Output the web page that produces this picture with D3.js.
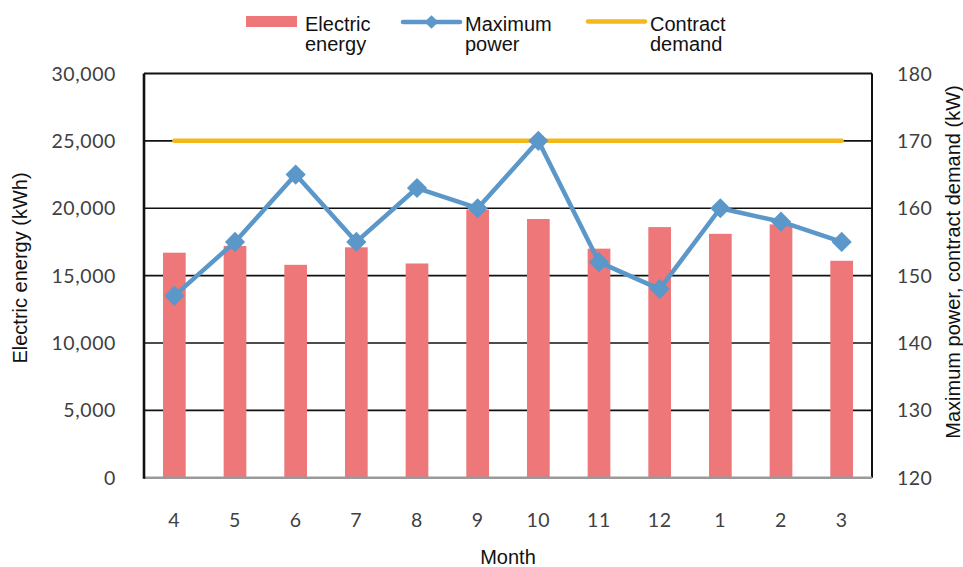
<!DOCTYPE html>
<html>
<head>
<meta charset="utf-8">
<script src="https://cdn.jsdelivr.net/npm/d3@7/dist/d3.min.js"></script>
<style>
  html, body { margin: 0; padding: 0; background: #fff; }
  svg { display: block; }
</style>
</head>
<body>
<svg id="chart" width="963" height="567"></svg>
<script>
// Monthly electricity data, fiscal year April → March
const months = ["4", "5", "6", "7", "8", "9", "10", "11", "12", "1", "2", "3"];
const energyKWh = [16700, 17200, 15800, 17100, 15900, 19900, 19200, 17000, 18600, 18100, 18800, 16100];
const maxPowerKW = [147, 155, 165, 155, 163, 160, 170, 152, 148, 160, 158, 155];
const contractDemandKW = 170;

const leftTicks = [0, 5000, 10000, 15000, 20000, 25000, 30000];
const rightTicks = [120, 130, 140, 150, 160, 170, 180];

const colors = { energy: "#EE777A", power: "#5B97C9", contract: "#F4B81C", text: "#404040" };

const svg = d3.select("#chart");
const plot = { left: 144, right: 872, top: 73.5, bottom: 477.7 };

const x = d3.scaleBand().domain(months).range([plot.left, plot.right]).paddingInner(0.626).paddingOuter(0.313);
const xc = d => x(d) + x.bandwidth() / 2;
const yL = d3.scaleLinear().domain([0, 30000]).range([plot.bottom, plot.top]);
const yR = d3.scaleLinear().domain([120, 180]).range([plot.bottom, plot.top]);

const tickFont = "Lato, 'Open Sans', sans-serif";
const titleFont = "'Liberation Sans', Arial, sans-serif";
const tickSize = 19.5;
const titleSize = 20;

// Horizontal gridlines
svg.append("g").selectAll("line").data(leftTicks.filter(t => t > 0 && t < 30000)).join("line")
  .attr("x1", plot.left).attr("x2", plot.right)
  .attr("y1", d => yL(d)).attr("y2", d => yL(d))
  .attr("stroke", "#111").attr("stroke-width", 1.6);

// Bars
svg.append("g").selectAll("rect").data(months).join("rect")
  .attr("x", d => x(d))
  .attr("y", (d, i) => yL(energyKWh[i]))
  .attr("width", x.bandwidth())
  .attr("height", (d, i) => yL(0) - yL(energyKWh[i]))
  .attr("fill", colors.energy);

// Frame
svg.append("line").attr("x1", plot.left).attr("x2", plot.right).attr("y1", plot.top).attr("y2", plot.top)
  .attr("stroke", "#111").attr("stroke-width", 2);
svg.append("line").attr("x1", plot.right).attr("x2", plot.right).attr("y1", plot.top).attr("y2", plot.bottom)
  .attr("stroke", "#111").attr("stroke-width", 2);
svg.append("line").attr("x1", plot.left).attr("x2", plot.right).attr("y1", plot.bottom).attr("y2", plot.bottom)
  .attr("stroke", "#9a9a9a").attr("stroke-width", 2.4);
svg.append("line").attr("x1", plot.left).attr("x2", plot.left).attr("y1", plot.top).attr("y2", plot.bottom + 1)
  .attr("stroke", "#111").attr("stroke-width", 2.6);

// Contract demand line
svg.append("line")
  .attr("x1", xc(months[0])).attr("x2", xc(months[months.length - 1]))
  .attr("y1", yR(contractDemandKW)).attr("y2", yR(contractDemandKW))
  .attr("stroke", colors.contract).attr("stroke-width", 4.5).attr("stroke-linecap", "round");

// Maximum power line with diamond markers
const line = d3.line().x((d, i) => xc(months[i])).y(d => yR(d));
svg.append("path").datum(maxPowerKW).attr("d", line)
  .attr("fill", "none").attr("stroke", colors.power).attr("stroke-width", 4.5).attr("stroke-linejoin", "round");
const diamond = d3.symbol().type(d3.symbolDiamond2).size(260);
svg.append("g").selectAll("path").data(maxPowerKW).join("path")
  .attr("transform", (d, i) => `translate(${xc(months[i])},${yR(d)})`)
  .attr("d", diamond).attr("fill", colors.power);

// Left axis labels
svg.append("g").selectAll("text").data(leftTicks).join("text")
  .attr("x", 116).attr("y", d => yL(d)).attr("dy", "0.36em")
  .attr("text-anchor", "end").attr("font-family", tickFont).attr("font-size", tickSize)
  .attr("letter-spacing", 0.6).attr("fill", colors.text)
  .text(d => d3.format(",")(d));

// Right axis labels
svg.append("g").selectAll("text").data(rightTicks).join("text")
  .attr("x", 897).attr("y", d => yR(d)).attr("dy", "0.36em")
  .attr("text-anchor", "start").attr("font-family", tickFont).attr("font-size", tickSize)
  .attr("letter-spacing", 0.4).attr("fill", colors.text)
  .text(d => d);

// Month labels
svg.append("g").selectAll("text").data(months).join("text")
  .attr("x", d => xc(d)).attr("y", 520).attr("dy", "0.36em")
  .attr("text-anchor", "middle").attr("font-family", tickFont).attr("font-size", tickSize)
  .attr("letter-spacing", 0.6).attr("fill", colors.text)
  .text(d => d);

// Axis titles
svg.append("text").attr("x", 508).attr("y", 557).attr("dy", "0.36em")
  .attr("text-anchor", "middle").attr("font-family", titleFont).attr("font-size", titleSize).attr("fill", "#111")
  .text("Month");
svg.append("text").attr("transform", "translate(20,268) rotate(-90)").attr("dy", "0.36em")
  .attr("text-anchor", "middle").attr("font-family", titleFont).attr("font-size", titleSize).attr("fill", "#111")
  .text("Electric energy (kWh)");
svg.append("text").attr("transform", "translate(953,262) rotate(-90)").attr("dy", "0.36em")
  .attr("text-anchor", "middle").attr("font-family", titleFont).attr("font-size", titleSize).attr("fill", "#111")
  .text("Maximum power, contract demand (kW)");

// Legend
const legend = svg.append("g").attr("font-family", titleFont).attr("font-size", titleSize).attr("fill", "#111");
const legendItems = [
  { lines: ["Electric", "energy"], x: 246, textX: 305, kind: "bar" },
  { lines: ["Maximum", "power"], x: 403, textX: 465, kind: "power" },
  { lines: ["Contract", "demand"], x: 588, textX: 650, kind: "contract" }
];
legendItems.forEach(item => {
  if (item.kind === "bar") {
    legend.append("rect").attr("x", item.x).attr("y", 16).attr("width", 51).attr("height", 11).attr("fill", colors.energy);
  } else if (item.kind === "power") {
    legend.append("line").attr("x1", item.x).attr("x2", item.x + 57).attr("y1", 22).attr("y2", 22)
      .attr("stroke", colors.power).attr("stroke-width", 4.5).attr("stroke-linecap", "round");
    legend.append("path").attr("transform", `translate(${item.x + 28.5},22)`)
      .attr("d", d3.symbol().type(d3.symbolDiamond2).size(120)).attr("fill", colors.power);
  } else {
    legend.append("line").attr("x1", item.x).attr("x2", item.x + 57).attr("y1", 21.5).attr("y2", 21.5)
      .attr("stroke", colors.contract).attr("stroke-width", 4.5).attr("stroke-linecap", "round");
  }
  const t = legend.append("text").attr("x", item.textX).attr("y", 31);
  item.lines.forEach((s, k) => t.append("tspan").attr("x", item.textX).attr("dy", k === 0 ? 0 : 19.5).text(s));
});
</script>
</body>
</html>
